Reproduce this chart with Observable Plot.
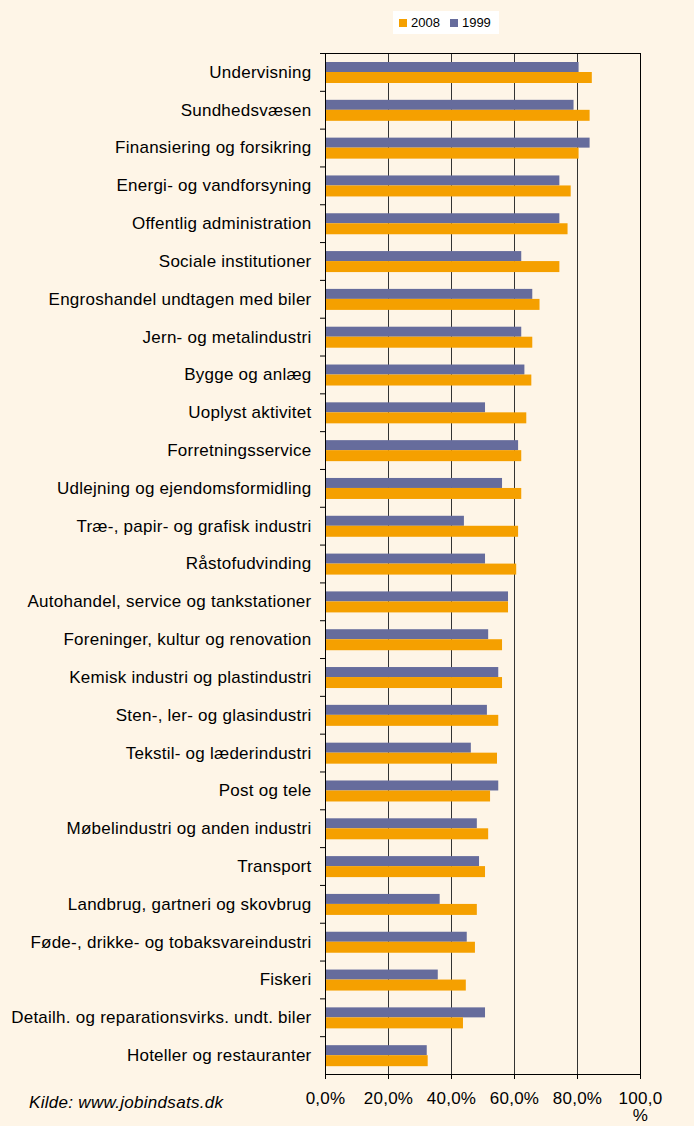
<!DOCTYPE html>
<html>
<head>
<meta charset="utf-8">
<script src="https://cdn.jsdelivr.net/npm/d3@7"></script>
<script src="https://cdn.jsdelivr.net/npm/@observablehq/plot@0.6"></script>
<style>
  html, body { margin: 0; padding: 0; background: #FEF5E7; }
  body { width: 694px; height: 1126px; position: relative; overflow: hidden; font-family: "Liberation Sans", Arial, sans-serif; }
  #chart { position: absolute; left: 0; top: 0; }
  #chart svg text { letter-spacing: 0.25px; }
  #legend { position: absolute; left: 393px; top: 11px; width: 106px; height: 23px; background: #fff; font-size: 13px; color: #000; display: flex; align-items: center; }
  #legend .sw { display: inline-block; width: 8px; height: 8px; margin-left: 6px; margin-right: 4px; }
  #legend .lab { margin-right: 4px; }
  #caption { position: absolute; left: 29px; top: 1093px; font-size: 17px; letter-spacing: 0.3px; font-style: italic; color: #000; }
</style>
</head>
<body>
<div id="chart"></div>
<div id="legend"></div>
<div id="caption">Kilde: www.jobindsats.dk</div>
<script>
const categories = [
  "Undervisning",
  "Sundhedsvæsen",
  "Finansiering og forsikring",
  "Energi- og vandforsyning",
  "Offentlig administration",
  "Sociale institutioner",
  "Engroshandel undtagen med biler",
  "Jern- og metalindustri",
  "Bygge og anlæg",
  "Uoplyst aktivitet",
  "Forretningsservice",
  "Udlejning og ejendomsformidling",
  "Træ-, papir- og grafisk industri",
  "Råstofudvinding",
  "Autohandel, service og tankstationer",
  "Foreninger, kultur og renovation",
  "Kemisk industri og plastindustri",
  "Sten-, ler- og glasindustri",
  "Tekstil- og læderindustri",
  "Post og tele",
  "Møbelindustri og anden industri",
  "Transport",
  "Landbrug, gartneri og skovbrug",
  "Føde-, drikke- og tobaksvareindustri",
  "Fiskeri",
  "Detailh. og reparationsvirks. undt. biler",
  "Hoteller og restauranter"
];
const values1999 = [80.5, 78.9, 84.0, 74.4, 74.4, 62.3, 65.8, 62.3, 63.3, 50.8, 61.3, 56.2, 44.1, 50.8, 58.1, 51.8, 55.0, 51.4, 46.3, 55.0, 48.2, 48.9, 36.4, 45.0, 35.8, 50.8, 32.3];
const values2008 = [84.7, 84.0, 80.5, 78.0, 77.0, 74.4, 68.1, 65.8, 65.5, 63.9, 62.3, 62.3, 61.3, 60.7, 58.1, 56.2, 56.2, 55.0, 54.6, 52.4, 51.8, 50.8, 48.2, 47.6, 44.7, 43.8, 32.6];
const seriesNames = ["2008", "1999"];
const seriesColors = ["#F5A000", "#666C9C"];
const xTicks = [0, 20, 40, 60, 80, 100];
const xTickLabels = ["0,0%", "20,0%", "40,0%", "60,0%", "80,0%", "100,0\n%"];

const rows1999 = categories.map((c, i) => ({cat: c, v: values1999[i]}));
const rows2008 = categories.map((c, i) => ({cat: c, v: values2008[i]}));

const mTop = 53, mBottom = 52, H = 1126;
const bw = (H - mTop - mBottom) / categories.length;

const chart = Plot.plot({
  width: 694,
  height: H,
  marginLeft: 325,
  marginRight: 54,
  marginTop: mTop,
  marginBottom: mBottom,
  style: {background: "transparent", fontFamily: "'Liberation Sans', Arial, sans-serif", fontSize: "17px", color: "#000"},
  x: {domain: [0, 100]},
  y: {domain: categories, padding: 0, round: false},
  marks: [
    Plot.gridX({ticks: [20, 40, 60, 80], stroke: "#333", strokeOpacity: 1}),
    Plot.barX(rows1999, {x: "v", y: "cat", fill: seriesColors[1], insetTop: 9, insetBottom: bw - 19}),
    Plot.barX(rows2008, {x: "v", y: "cat", fill: seriesColors[0], insetTop: 19, insetBottom: bw - 30}),
    Plot.frame({stroke: "#000"}),
    Plot.axisY({tickSize: 0, tickPadding: 14, label: null, fontSize: 17}),
    Plot.axisY({tickSize: 5, text: null, label: null, dy: -bw / 2, stroke: "#000"}),
    Plot.axisX({ticks: xTicks, tickSize: 5, tickPadding: 12, label: null, fontSize: 17,
      tickFormat: d => xTickLabels[xTicks.indexOf(d)], lineAnchor: "top"})
  ]
});
document.getElementById("chart").appendChild(chart);

const legend = document.getElementById("legend");
seriesNames.forEach((s, i) => {
  const sw = document.createElement("span");
  sw.className = "sw";
  sw.style.background = seriesColors[i];
  const lab = document.createElement("span");
  lab.className = "lab";
  lab.textContent = s;
  legend.appendChild(sw);
  legend.appendChild(lab);
});
</script>
</body>
</html>
